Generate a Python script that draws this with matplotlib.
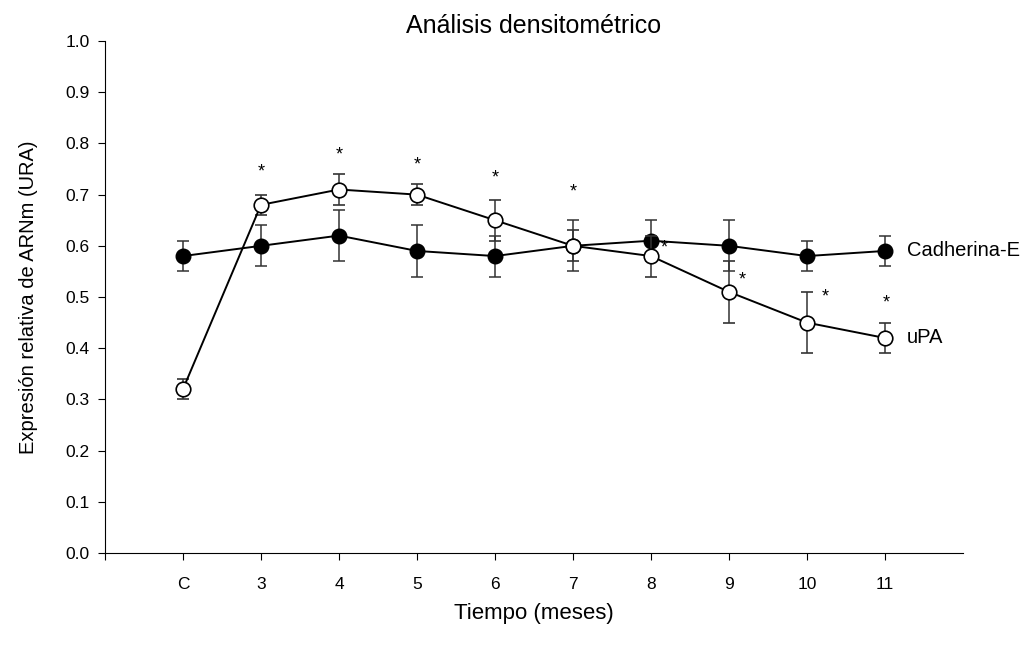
import matplotlib
matplotlib.use("Agg")
import matplotlib.pyplot as plt

plt.rcParams['font.family'] = ['Liberation Sans', 'DejaVu Sans']

categories = ["C", "3", "4", "5", "6", "7", "8", "9", "10", "11"]
cadherina = [0.58, 0.60, 0.62, 0.59, 0.58, 0.60, 0.61, 0.60, 0.58, 0.59]
cadherina_err = [0.03, 0.04, 0.05, 0.05, 0.04, 0.05, 0.04, 0.05, 0.03, 0.03]
upa = [0.32, 0.68, 0.71, 0.70, 0.65, 0.60, 0.58, 0.51, 0.45, 0.42]
upa_err = [0.02, 0.02, 0.03, 0.02, 0.04, 0.03, 0.04, 0.06, 0.06, 0.03]
# significance stars: (category index, x offset, y value)
star_idx = [1, 2, 3, 4, 5, 6, 7, 8, 9]
star_dx = [0.0, 0.0, 0.0, 0.0, 0.0, 0.17, 0.17, 0.23, 0.02]
star_y = [0.745, 0.778, 0.758, 0.732, 0.706, 0.596, 0.533, 0.50, 0.488]

xpos = list(range(1, len(categories) + 1))

fig = plt.figure(figsize=(10.27, 6.45), dpi=100)
ax = fig.add_axes([0.1022, 0.1426, 0.8355, 0.7938])

ax.errorbar(xpos, cadherina, yerr=cadherina_err, fmt='-o', color='black',
            ecolor='#333333', elinewidth=1.1, capsize=4, capthick=1.1,
            markersize=10.5, markerfacecolor='black', markeredgecolor='black',
            linewidth=1.4, zorder=2)
ax.errorbar(xpos, upa, yerr=upa_err, fmt='-o', color='black',
            ecolor='#333333', elinewidth=1.1, capsize=4, capthick=1.1,
            markersize=10.5, markerfacecolor='white', markeredgecolor='black',
            markeredgewidth=1.2, linewidth=1.4, zorder=3)

for i, dx, y in zip(star_idx, star_dx, star_y):
    ax.text(xpos[i] + dx, y, "*", ha='center', va='center', fontsize=13)

ax.text(xpos[-1] + 0.28, cadherina[-1], "Cadherina-E", ha='left', va='center', fontsize=14.5)
ax.text(xpos[-1] + 0.28, upa[-1], "uPA", ha='left', va='center', fontsize=14.5)

ax.set_xlim(0, 11)
ax.set_ylim(0, 1.0)
ax.set_xticks([0] + xpos)
ax.set_xticklabels([""] + categories)
ax.set_yticks([i / 10 for i in range(11)])
ax.set_yticklabels([f"{i / 10:.1f}" for i in range(11)])
ax.tick_params(axis='both', labelsize=12.5, direction='out', length=5, width=0.8)
ax.tick_params(axis='x', pad=12)
ax.tick_params(axis='y', pad=6)

ax.spines['top'].set_visible(False)
ax.spines['right'].set_visible(False)

ax.set_title("Análisis densitométrico", fontsize=18, pad=6)
ax.set_xlabel("Tiempo (meses)", fontsize=16, labelpad=8)
ax.set_ylabel("Expresión relativa de ARNm (URA)", fontsize=14.5, labelpad=20)

fig.savefig("out.png", dpi=100)
